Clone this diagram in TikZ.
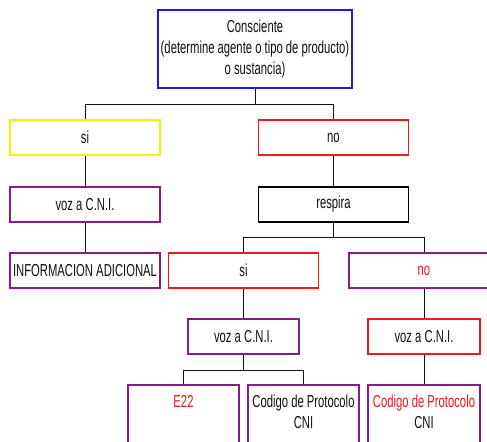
\documentclass[tikz,border=0pt]{standalone}
\usepackage{fontspec}
\setmainfont{Liberation Sans}[FakeStretch=0.65]
\usetikzlibrary{positioning,calc}
\definecolor{boxblue}{HTML}{1A1AF0}
\definecolor{boxyellow}{HTML}{F5F500}
\definecolor{boxred}{HTML}{F01818}
\definecolor{boxpurple}{HTML}{8A1A8A}
\definecolor{ink}{HTML}{111111}
\tikzset{
  qbox/.style={draw,line width=1.1pt,fill=white,
               minimum width=112.5pt,minimum height=26.25pt,inner sep=0pt,
               align=center,font=\fontsize{13}{15.6}\selectfont,text=ink},
  smallq/.style={qbox,minimum width=83.25pt},
  leafbox/.style={qbox,draw=boxpurple,minimum width=83.25pt,minimum height=63.75pt},
  leaftext/.style={anchor=north,yshift=-8pt,align=center,
                   font=\fontsize{13}{15.6}\selectfont,inner sep=0pt},
  link/.style={draw=ink,line width=0.75pt}
}

\begin{document}
\begin{tikzpicture}[x=0.75pt,y=-0.75pt]
  \useasboundingbox (0,0) rectangle (487,442);
  % question at the top
  \node[qbox,draw=boxblue,minimum width=145.5pt,minimum height=58.5pt] (top) at (255,49)
    {Consciente\\(determine agente o tipo de producto)\\o sustancia)};
  % first level
  \node[qbox,draw=boxyellow] (si) at (85,137.5) {si};
  \node[qbox,draw=boxred] (no) at (333.5,137.5) {no};
  \node[qbox,draw=boxpurple] (vozsi) at (85,204.5) {voz a C.N.I.};
  \node[qbox] (respira) at (333.5,204.5) {respira};
  \node[qbox,draw=boxpurple] (info) at (85,270.5) {INFORMACION ADICIONAL};
  % breathing branch
  \node[qbox,draw=boxred] (resp-si) at (243.5,270.5) {si};
  \node[qbox,draw=boxpurple,text=boxred] (resp-no) at (424,270.5) {no};
  \node[smallq,draw=boxpurple] (voz-si) at (243.5,336.5) {voz a C.N.I.};
  \node[smallq,draw=boxred,minimum width=84pt] (voz-no) at (424,336.5) {voz a C.N.I.};
  % leaves, cut by the lower edge
  \node[leafbox,label={[leaftext,text=boxred]north:E22}] (e22) at (183.5,427.5) {};
  \node[leafbox,label={[leaftext,text=ink]north:Codigo de Protocolo\\CNI}] (cod-si) at (303.5,427.5) {};
  \node[leafbox,minimum width=84pt,
        label={[leaftext]north:\textcolor{boxred}{Codigo de Protocolo}\\\textcolor{ink}{CNI}}] (cod-no) at (424,427.5) {};

  \draw[link] (top.south) -- ++(0,16) -| (si.north);
  \draw[link] (top.south) -- ++(0,16) -| (no.north);
  \draw[link] (si) -- (vozsi);
  \draw[link] (vozsi) -- (info);
  \draw[link] (no) -- (respira);
  \draw[link] (respira.south) -- ++(0,15) -| (resp-si.north);
  \draw[link] (respira.south) -- ++(0,15) -| (resp-no.north);
  \draw[link] (resp-si) -- (voz-si);
  \draw[link] (resp-no) -- (voz-no);
  \draw[link] (voz-si.south) -- ++(0,16) -| (e22.north);
  \draw[link] (voz-si.south) -- ++(0,16) -| (cod-si.north);
  \draw[link] (voz-no) -- (cod-no);
\end{tikzpicture}
\end{document}
